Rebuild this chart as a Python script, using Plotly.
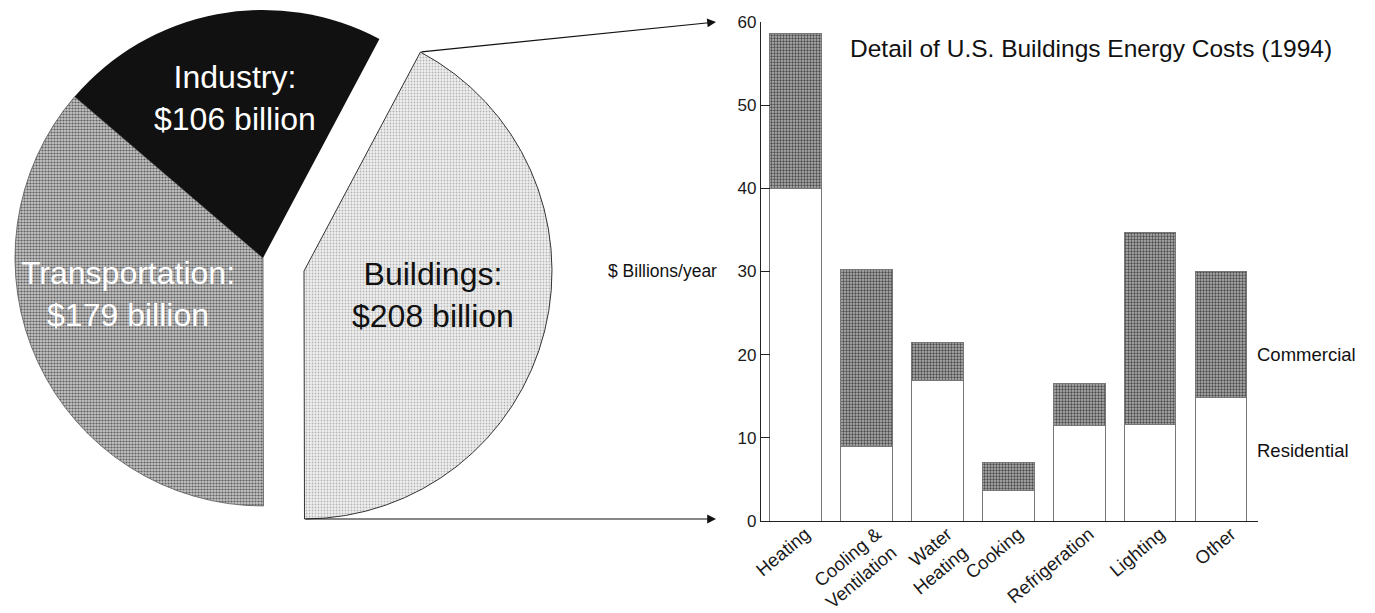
import plotly.graph_objects as go

# ---------------- data ----------------
sectors = ["Buildings", "Transportation", "Industry"]
sector_costs = [208, 179, 106]
sector_text = ["Buildings:<br>$208 billion", "Transportation:<br>$179 billion", "Industry:<br>$106 billion"]

end_uses = ["Heating", "Cooling &<br>Ventilation", "Water<br>Heating", "Cooking",
            "Refrigeration", "Lighting", "Other"]
residential = [40.0, 8.9, 16.9, 3.7, 11.5, 11.6, 14.9]
commercial = [18.6, 21.3, 4.6, 3.3, 5.0, 23.1, 15.1]
y_ticks = [0, 10, 20, 30, 40, 50, 60]

title_text = "Detail of U.S. Buildings Energy Costs (1994)"
y_label = "$ Billions/year"

# ---------------- layout helpers ----------------
W, H = 1375, 613
OFF = 8  # page body margin of the rendered html
FONT = "Liberation Sans, Arial, Helvetica, sans-serif"
CLEAR = "rgba(0,0,0,0)"


def px_x(x):
    return (x - OFF) / W


def px_y(y):
    return 1 - (y - OFF) / H


# pie geometry (pixels)
cx, cy, r = 263, 258, 248
dx, dy = 41, 13  # offset of the exploded Buildings slice

fig = go.Figure()

# main pie: Transportation + Industry (Buildings invisible)
fig.add_trace(go.Pie(
    labels=sectors, values=sector_costs, sort=False, direction="clockwise",
    rotation=28, textinfo="none", hoverinfo="skip", showlegend=False,
    domain=dict(x=[px_x(cx - r), px_x(cx + r)], y=[px_y(cy + r), px_y(cy - r)]),
    marker=dict(
        colors=[CLEAR, "#c8c8c8", "#111111"],
        line=dict(color=[CLEAR, "#555555", "#111111"], width=[0, 0.8, 0]),
        pattern=dict(shape=["", ".", ""], fgcolor=[CLEAR, "#5e5e5e", "#111111"],
                     bgcolor=[CLEAR, "#c4c4c4", "#111111"], size=3, solidity=0.42),
    ),
))

# exploded Buildings slice
fig.add_trace(go.Pie(
    labels=sectors, values=sector_costs, sort=False, direction="clockwise",
    rotation=28, textinfo="none", hoverinfo="skip", showlegend=False,
    domain=dict(x=[px_x(cx + dx - r), px_x(cx + dx + r)],
                y=[px_y(cy + dy + r), px_y(cy + dy - r)]),
    marker=dict(
        colors=["#e6e6e6", CLEAR, CLEAR],
        line=dict(color=["#333333", CLEAR, CLEAR], width=[1, 0, 0]),
        pattern=dict(shape=[".", "", ""], fgcolor=["#b4b4b4", CLEAR, CLEAR],
                     bgcolor=["#f0f0f0", CLEAR, CLEAR], size=3, solidity=0.3),
    ),
))

# stacked bars
fig.add_trace(go.Bar(
    x=end_uses, y=residential, name="Residential", showlegend=False,
    marker=dict(color="white", line=dict(color="#777777", width=1)),
    hoverinfo="skip",
))
fig.add_trace(go.Bar(
    x=end_uses, y=commercial, name="Commercial", showlegend=False,
    marker=dict(color="#b8b8b8", line=dict(color="#777777", width=1),
                pattern=dict(shape=".", fgcolor="#4a4a4a", bgcolor="#bcbcbc",
                             size=3, solidity=0.5)),
    hoverinfo="skip",
))

fig.update_layout(
    template="none",
    width=W, height=H, margin=dict(l=0, r=0, t=0, b=0, pad=0, autoexpand=False),
    paper_bgcolor="white", plot_bgcolor="white",
    barmode="stack", bargap=0.274,
    font=dict(family=FONT, color="#1a1a1a"),
    xaxis=dict(domain=[px_x(761), px_x(1258)], range=[-0.487, 6.52],
               showline=True, linecolor="#222222", linewidth=1.3, ticks="",
               tickangle=-40, tickfont=dict(size=18.5, family=FONT, color="#1a1a1a"),
               ticklabelshift=10, ticklabelstandoff=-6,
               showgrid=False, zeroline=False, fixedrange=True, automargin=False),
    yaxis=dict(domain=[px_y(521), px_y(21.9)], range=[0, 60],
               showline=True, linecolor="#222222", linewidth=1.3,
               ticks="inside", ticklen=9, tickcolor="#222222", tickwidth=1.2,
               tickvals=y_ticks, tickfont=dict(size=17, family=FONT, color="#1a1a1a"),
               showgrid=False, zeroline=False, fixedrange=True, automargin=False),
)

annotations = []
# pie labels
label_pos = {"Industry": (235, 98, "white"),
             "Transportation": (128, 294, "white"),
             "Buildings": (433, 295, "#111111")}
for name, txt in zip(sectors, sector_text):
    x, y, col = label_pos[name]
    annotations.append(dict(x=px_x(x), y=px_y(y), xref="paper", yref="paper",
                            text=txt, showarrow=False, xanchor="center", yanchor="middle",
                            font=dict(size=32, color=col, family=FONT)))

# title
annotations.append(dict(x=px_x(848), y=px_y(48), xref="paper", yref="paper",
                        text=title_text, showarrow=False, xanchor="left", yanchor="middle",
                        font=dict(size=24.5, color="#111111", family=FONT)))
# y label
annotations.append(dict(x=px_x(719), y=30, xref="paper", yref="y",
                        text=y_label, showarrow=False, xanchor="right", yanchor="middle",
                        font=dict(size=17.5, color="#111111", family=FONT)))
# series labels
annotations.append(dict(x=px_x(1255), y=20, xref="paper", yref="y",
                        text="Commercial", showarrow=False, xanchor="left", yanchor="middle",
                        font=dict(size=18.5, color="#111111", family=FONT)))
annotations.append(dict(x=px_x(1255), y=8.5, xref="paper", yref="y",
                        text="Residential", showarrow=False, xanchor="left", yanchor="middle",
                        font=dict(size=18.5, color="#111111", family=FONT)))
# connecting arrows
annotations.append(dict(x=px_x(716), y=px_y(22), xref="paper", yref="paper",
                        ax=420 - 716, ay=52 - 22, axref="pixel", ayref="pixel",
                        text="", showarrow=True, arrowhead=2, arrowsize=1.6,
                        arrowwidth=1.1, arrowcolor="#111111"))
annotations.append(dict(x=px_x(716), y=px_y(519), xref="paper", yref="paper",
                        ax=304 - 716, ay=0, axref="pixel", ayref="pixel",
                        text="", showarrow=True, arrowhead=2, arrowsize=1.6,
                        arrowwidth=1.1, arrowcolor="#111111"))
fig.update_layout(annotations=annotations)

fig.write_html("out.html")
